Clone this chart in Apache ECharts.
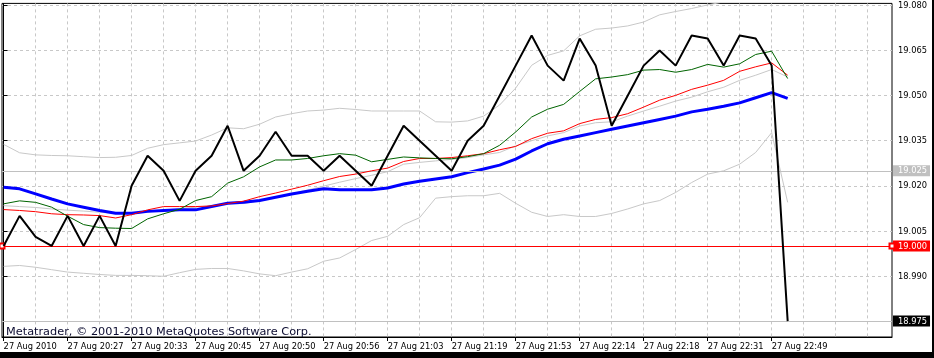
<!DOCTYPE html>
<html><head><meta charset="utf-8">
<script src="https://cdn.jsdelivr.net/npm/echarts@6/dist/echarts.min.js"></script>
<style>html,body{margin:0;padding:0;background:#fff}#c{width:934px;height:358px}</style>
</head><body><div id="c"></div>
<script>
const timeLabels = ['27 Aug 2010','27 Aug 20:27','27 Aug 20:33','27 Aug 20:45','27 Aug 20:50','27 Aug 20:56','27 Aug 21:03','27 Aug 21:19','27 Aug 21:53','27 Aug 22:14','27 Aug 22:18','27 Aug 22:31','27 Aug 22:49'];
const labelBars = [0,4,8,12,16,20,24,28,32,36,40,44,48];
const gridBars = [0,2,4,6,8,10,12,14,16,18,20,22,24,26,28,30,32,34,36,38,40,42,44,46,48,50,52,54];
const priceTicks = [18.975,18.990,19.005,19.020,19.035,19.050,19.065,19.080];
const grayLevels = [19.025,18.975];
const redLevel = 19.000;
const bidLevel = 18.975;

const closePrice = [19.000,19.010,19.003,19.000,19.010,19.000,19.010,19.000,19.020,19.030,
  19.025,19.015,19.025,19.030,19.040,19.025,19.030,19.038,19.030,19.030,
  19.025,19.030,19.025,19.020,19.030,19.040,19.035,19.030,19.025,19.035,
  19.040,19.050,19.060,19.070,19.060,19.055,19.069,19.060,19.040,19.050,
  19.060,19.065,19.060,19.070,19.069,19.060,19.070,19.069,19.060,18.975];
const maBlue = [19.0195,19.0190,19.0173,19.0156,19.0140,19.0129,19.0118,19.0109,19.0109,19.0115,
  19.0118,19.0120,19.0120,19.0131,19.0142,19.0145,19.0151,19.0162,19.0173,19.0182,
  19.0190,19.0187,19.0187,19.0187,19.0193,19.0206,19.0215,19.0223,19.0230,19.0244,
  19.0256,19.0269,19.0289,19.0316,19.0340,19.0355,19.0366,19.0377,19.0388,19.0399,
  19.0410,19.0421,19.0432,19.0446,19.0455,19.0465,19.0476,19.0493,19.0510,19.0491];
const maRed = [19.0121,19.0118,19.0114,19.0107,19.0104,19.0103,19.0101,19.0093,19.0104,19.0120,
  19.0131,19.0131,19.0131,19.0133,19.0141,19.0149,19.0164,19.0176,19.0189,19.0202,
  19.0217,19.0231,19.0239,19.0250,19.0259,19.0281,19.0291,19.0291,19.0294,19.0300,
  19.0307,19.0320,19.0331,19.0357,19.0375,19.0383,19.0407,19.0421,19.0427,19.0440,
  19.0462,19.0485,19.0501,19.0521,19.0535,19.0551,19.0581,19.0596,19.0609,19.0568];
const maGreen = [19.0140,19.0150,19.0145,19.0129,19.0099,19.0071,19.0061,19.0059,19.0058,19.0090,
  19.0107,19.0122,19.0151,19.0164,19.0209,19.0230,19.0263,19.0286,19.0286,19.0291,
  19.0300,19.0307,19.0302,19.0280,19.0288,19.0296,19.0293,19.0291,19.0290,19.0297,
  19.0307,19.0335,19.0379,19.0429,19.0455,19.0471,19.0514,19.0556,19.0562,19.0570,
  19.0585,19.0587,19.0578,19.0587,19.0604,19.0595,19.0606,19.0637,19.0648,19.0557];
const bandUpper = [19.0338,19.0310,19.0303,19.0301,19.0300,19.0297,19.0294,19.0295,19.0301,19.0325,
  19.0337,19.0343,19.0349,19.0369,19.0393,19.0390,19.0405,19.0429,19.0440,19.0449,
  19.0452,19.0458,19.0454,19.0449,19.0449,19.0449,19.0449,19.0413,19.0412,19.0416,
  19.0432,19.0469,19.0525,19.0601,19.0634,19.0649,19.0699,19.0721,19.0725,19.0732,
  19.0745,19.0769,19.0780,19.0790,19.0802,19.0812,19.0825,19.0838,19.0850,19.0950];
const bandMiddle = [19.0134,19.0131,19.0128,19.0123,19.0119,19.0116,19.0112,19.0109,19.0107,19.0113,
  19.0119,19.0124,19.0129,19.0134,19.0140,19.0141,19.0151,19.0162,19.0174,19.0186,
  19.0199,19.0212,19.0224,19.0235,19.0247,19.0272,19.0278,19.0283,19.0288,19.0294,
  19.0303,19.0311,19.0333,19.0350,19.0366,19.0377,19.0399,19.0410,19.0413,19.0432,
  19.0449,19.0465,19.0482,19.0495,19.0513,19.0528,19.0551,19.0568,19.0587,19.0562];
const bandLower = [18.9932,18.9935,18.9929,18.9921,18.9913,18.9909,18.9905,18.9902,18.9902,18.9901,
  18.9899,18.9911,18.9922,18.9925,18.9925,18.9917,18.9907,18.9901,18.9913,18.9924,
  18.9949,18.9960,18.9988,19.0018,19.0032,19.0071,19.0094,19.0159,19.0164,19.0167,
  19.0167,19.0175,19.0142,19.0112,19.0098,19.0104,19.0098,19.0098,19.0108,19.0123,
  19.0140,19.0151,19.0178,19.0211,19.0239,19.0250,19.0272,19.0311,19.0377,19.0145];

const xMin = -0.1, xMax = 55.52;
const yMin = 18.9697, yMax = 19.0807;
const FONT = 'DejaVu Sans';
const FS = 8.3;

function pts(arr){ return arr.map((v,i)=>[i,v]); }
function near(a,b){ return Math.abs(a-b) < 1e-7; }

const chart = echarts.init(document.getElementById('c'), null, {renderer:'canvas'});
const gridLineStyle = {color:'#c8c8c8', width:1, type:[3,3]};
const lineSeries = (name, data, color, width, z) => ({
  name, type:'line', data: pts(data), symbol:'none', silent:true, z,
  lineStyle:{color, width}, clip:true
});
const boxStyle = (bg) => ({color:'#fff', backgroundColor:bg, fontFamily:FONT, fontSize:FS, padding:[2,3,1,5], lineHeight:FS+1});

chart.setOption({
  animation:false,
  backgroundColor:'#fff',
  grid:{left:2, top:2, right:42, bottom:21, show:true, borderColor:'#000', borderWidth:1, backgroundColor:'transparent'},
  xAxis:[
    {type:'value', min:xMin, max:xMax, position:'bottom',
     axisLine:{show:true, lineStyle:{color:'#000', width:1}},
     axisTick:{show:false, customValues:gridBars},
     axisLabel:{show:false},
     splitLine:{show:true, lineStyle:gridLineStyle}},
    {type:'value', min:xMin, max:xMax, position:'bottom',
     axisLine:{show:false},
     axisTick:{show:true, customValues:labelBars, length:4, lineStyle:{color:'#000'}},
     axisLabel:{show:true, customValues:labelBars, align:'left', margin:6, color:'#000', fontFamily:FONT, fontSize:FS,
       formatter:(v)=>{ const k = labelBars.indexOf(Math.round(v)); return k>=0 ? timeLabels[k] : ''; }},
     splitLine:{show:false}}
  ],
  yAxis:{type:'value', position:'right', min:yMin, max:yMax,
    axisLine:{show:true, lineStyle:{color:'#000', width:1}},
    axisTick:{show:true, customValues:priceTicks, length:4, lineStyle:{color:'#000'}},
    axisLabel:{show:true, customValues:priceTicks.concat([grayLevels[0], redLevel]), margin:1,
      formatter:(v)=>{
        const s = v.toFixed(3);
        if (near(v,grayLevels[0])) return '{g|'+s+'}';
        if (near(v,redLevel)) return '{r|'+s+'}';
        if (near(v,bidLevel)) return '{k|'+s+'}';
        return '{n|'+s+'}';
      },
      rich:{
        n:{color:'#000', fontFamily:FONT, fontSize:FS, padding:[2,3,1,5], lineHeight:FS+1},
        g:boxStyle('#c0c0c0'),
        r:boxStyle('#ff0000'),
        k:boxStyle('#000000')
      }},
    splitLine:{show:true, lineStyle:gridLineStyle}},
  series:[
    Object.assign(lineSeries('upper', bandUpper, '#c8c8c8', 1, 2), {
      markLine:{silent:true, symbol:'none', precision:4, label:{show:false}, animation:false,
        lineStyle:{color:'#c0c0c0', width:1, type:'solid'},
        data: grayLevels.map(v=>({yAxis:v}))}
    }),
    lineSeries('middle', bandMiddle, '#c8c8c8', 1, 2),
    lineSeries('lower', bandLower, '#c8c8c8', 1, 2),
    Object.assign(lineSeries('level', [], '#ff0000', 1, 3), {
      markLine:{silent:true, symbol:['emptyRect','emptyRect'], symbolSize:5, precision:4, label:{show:false}, animation:false,
        lineStyle:{color:'#ff0000', width:1, type:'solid'},
        data:[{yAxis:redLevel}]}
    }),
    lineSeries('blue', maBlue, '#0000ff', 3, 4),
    lineSeries('red', maRed, '#ff0000', 1, 5),
    lineSeries('green', maGreen, '#006400', 1, 5),
    lineSeries('close', closePrice, '#000000', 2, 6)
  ],
  graphic:[
    {type:'text', left:6, top:327, silent:true, z:100,
     style:{text:'Metatrader, © 2001-2010 MetaQuotes Software Corp.', fill:'#0c0c30', font:'11.3px "DejaVu Sans"'}},
    {type:'rect', shape:{x:0, y:352, width:934, height:6}, style:{fill:'#000'}, silent:true, z:100},
    {type:'rect', shape:{x:932, y:0, width:2, height:358}, style:{fill:'#000'}, silent:true, z:100}
  ]
});
</script></body></html>
